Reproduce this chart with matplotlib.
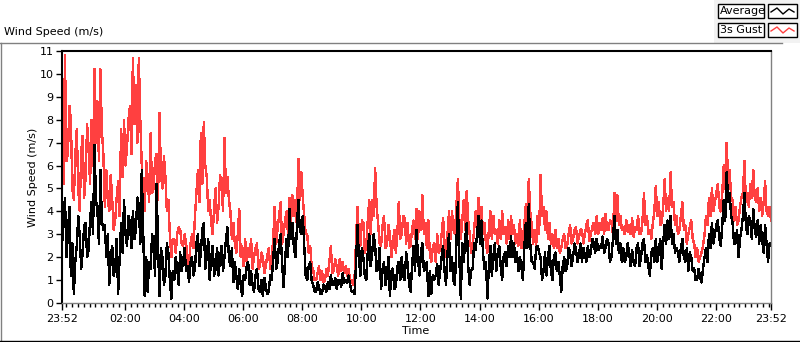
import matplotlib
matplotlib.use('Agg')
import matplotlib.pyplot as plt
from matplotlib.lines import Line2D
from matplotlib.patches import Rectangle

# wind speed, one sample every 3 minutes from 23:52 to 23:52.
# the *_a lists hold samples at 0, 6, 12 ... min, the *_b lists the ones at 3, 9, 15 ... min
sample_step_min = 3

gust_a = [7.3, 10.8, 6.5, 8.0, 4.5, 7.6, 4.0, 7.3, 5.5, 6.8,
          8.0, 10.2, 8.8, 10.2, 6.5, 5.8, 4.0, 4.5, 3.6, 5.3,
          7.6, 8.0, 6.8, 8.6, 10.7, 9.5, 10.7, 6.0, 4.0, 5.5,
          7.4, 5.0, 6.5, 8.3, 5.0, 5.5, 4.5, 2.0, 2.8, 3.0,
          3.2, 2.5, 2.6, 1.6, 3.0, 3.8, 5.8, 7.4, 7.9, 5.5,
          4.5, 3.0, 5.0, 4.2, 5.2, 7.2, 5.5, 4.0, 3.5, 2.2,
          4.1, 2.5, 2.8, 2.4, 2.8, 2.0, 2.6, 1.6, 2.0, 1.6,
          2.4, 2.0, 4.2, 3.3, 4.4, 3.0, 4.0, 4.6, 4.7, 4.5,
          6.3, 5.7, 3.8, 3.0, 2.5, 1.5, 1.0, 1.6, 1.4, 1.0,
          1.2, 2.5, 1.4, 1.6, 1.9, 1.8, 1.6, 1.5, 1.0, 1.0,
          4.2, 2.5, 3.5, 2.5, 4.5, 4.5, 5.9, 3.5, 2.5, 3.8,
          2.5, 3.0, 2.6, 2.2, 4.4, 3.0, 3.7, 3.5, 2.5, 3.6,
          4.1, 4.0, 4.7, 3.5, 3.6, 1.8, 2.6, 3.0, 2.3, 3.7,
          2.0, 4.0, 4.0, 3.0, 5.4, 2.8, 4.5, 4.9, 3.0, 2.5,
          4.0, 4.6, 4.2, 3.5, 2.2, 4.0, 3.8, 3.2, 3.6, 4.0,
          3.3, 3.6, 3.8, 3.4, 3.0, 3.6, 2.8, 4.3, 5.4, 3.4,
          3.2, 3.8, 5.6, 4.2, 4.0, 3.5, 3.0, 3.2, 2.8, 2.4,
          3.0, 2.5, 3.4, 2.8, 3.3, 2.9, 3.2, 3.0, 3.6, 3.0,
          3.5, 3.8, 3.5, 3.7, 3.9, 3.2, 3.5, 4.8, 4.7, 3.8,
          3.3, 3.6, 3.4, 3.7, 3.3, 3.8, 3.0, 4.8, 3.8, 3.2,
          3.5, 5.1, 4.4, 3.5, 5.4, 4.6, 5.7, 4.4, 3.8, 3.2,
          4.4, 3.4, 3.0, 3.6, 2.6, 2.4, 2.0, 2.5, 3.8, 4.6,
          5.0, 4.4, 5.2, 4.0, 6.0, 7.0, 5.8, 4.5, 4.2, 3.6,
          4.6, 6.2, 4.8, 5.2, 5.8, 4.4, 4.0, 3.8, 5.3, 3.8,
          3.6]

gust_b = [5.2, 6.2, 8.6, 5.0, 6.4, 5.0, 6.6, 4.6, 7.8, 5.2,
          6.0, 7.0, 6.2, 7.5, 4.2, 4.5, 5.6, 3.2, 4.6, 3.8,
          5.5, 6.0, 8.0, 6.5, 7.8, 7.0, 8.0, 4.6, 6.2, 4.4,
          4.8, 6.2, 4.5, 5.6, 6.4, 4.0, 3.0, 2.8, 2.2, 3.3,
          2.6, 3.0, 2.0, 2.6, 2.4, 4.8, 4.4, 5.2, 6.0, 4.0,
          3.5, 4.2, 3.5, 5.6, 4.0, 4.8, 4.5, 2.8, 2.6, 3.0,
          2.0, 1.6, 1.8, 2.0, 1.5, 2.4, 1.5, 2.2, 1.3, 2.1,
          1.5, 2.8, 2.6, 3.8, 2.6, 3.6, 3.0, 3.5, 3.8, 3.4,
          4.5, 4.6, 3.0, 2.2, 1.6, 1.0, 1.3, 1.0, 0.9, 1.5,
          1.8, 1.3, 1.9, 1.2, 1.4, 1.3, 1.2, 1.0, 0.8, 2.6,
          3.0, 3.6, 2.2, 3.6, 3.0, 3.8, 4.2, 2.6, 3.4, 2.4,
          3.4, 2.0, 3.2, 3.0, 2.8, 3.8, 2.6, 2.4, 3.2, 2.8,
          2.8, 3.2, 3.0, 2.4, 2.2, 2.4, 1.8, 2.2, 3.0, 2.6,
          3.0, 2.8, 3.2, 4.2, 3.6, 3.6, 3.2, 3.6, 2.2, 3.2,
          3.2, 3.4, 3.0, 2.6, 3.2, 2.8, 3.0, 2.6, 2.8, 3.0,
          2.6, 2.8, 3.0, 2.6, 2.5, 2.4, 3.4, 3.2, 4.0, 2.6,
          2.5, 3.0, 3.8, 3.2, 2.8, 2.6, 2.4, 2.4, 2.2, 2.8,
          2.4, 3.0, 2.6, 3.2, 2.6, 3.2, 2.6, 3.4, 2.7, 3.3,
          3.0, 3.0, 3.2, 3.0, 3.2, 3.6, 3.0, 3.6, 3.4, 3.2,
          3.0, 3.1, 3.0, 2.9, 3.2, 3.0, 3.6, 3.4, 3.0, 2.8,
          4.0, 3.8, 3.4, 4.2, 4.0, 4.0, 4.2, 3.4, 3.0, 3.8,
          3.2, 2.6, 3.3, 2.8, 2.0, 1.8, 2.2, 3.0, 3.4, 3.8,
          4.0, 4.8, 4.2, 4.8, 5.0, 5.2, 4.6, 3.6, 3.4, 4.2,
          4.8, 4.4, 4.2, 4.6, 4.6, 5.0, 4.6, 4.4, 4.0, 4.2]

avg_a = [2.5, 4.6, 3.0, 1.2, 0.4, 2.5, 2.9, 2.2, 3.5, 2.3,
         4.4, 6.9, 4.0, 5.8, 3.2, 2.0, 0.8, 2.5, 1.5, 0.4,
         3.5, 4.5, 2.5, 3.5, 4.0, 3.2, 4.3, 5.8, 0.3, 0.5,
         1.5, 2.5, 5.2, 0.3, 2.0, 1.2, 2.2, 0.2, 1.0, 1.5,
         2.2, 1.8, 1.4, 0.9, 2.0, 1.5, 3.0, 2.2, 3.5, 2.0,
         1.0, 2.5, 1.5, 1.2, 2.5, 2.0, 3.3, 1.6, 0.9, 1.2,
         1.5, 0.3, 1.0, 1.8, 1.4, 0.5, 1.5, 0.5, 0.3, 0.7,
         0.5, 1.0, 2.8, 1.8, 3.0, 0.7, 2.8, 4.1, 3.5, 2.0,
         4.5, 3.0, 2.5, 1.0, 1.8, 0.8, 0.5, 0.7, 0.4, 0.7,
         0.9, 1.2, 0.8, 0.6, 1.0, 1.3, 1.0, 1.2, 0.5, 0.4,
         3.4, 1.2, 2.0, 1.0, 3.0, 2.2, 2.5, 1.5, 0.6, 1.8,
         1.2, 0.3, 1.5, 0.7, 1.8, 2.0, 1.0, 1.7, 0.5, 2.5,
         3.2, 1.2, 2.6, 1.5, 0.3, 0.4, 1.0, 1.7, 1.4, 2.5,
         0.8, 3.0, 2.0, 0.8, 4.4, 0.2, 1.8, 3.5, 0.8, 1.5,
         2.3, 3.8, 3.6, 1.5, 0.2, 2.5, 2.0, 1.4, 2.5, 1.0,
         2.2, 2.5, 2.9, 2.6, 2.2, 2.0, 1.0, 3.5, 4.3, 1.8,
         1.5, 2.5, 2.0, 1.4, 1.2, 2.5, 1.0, 2.2, 1.8, 0.5,
         2.0, 1.6, 2.2, 2.0, 2.3, 2.1, 1.8, 2.1, 2.5, 2.2,
         2.6, 2.8, 2.5, 2.9, 2.4, 2.6, 2.0, 3.8, 3.2, 2.6,
         2.4, 2.0, 2.2, 2.3, 1.6, 2.6, 2.0, 2.8, 2.1, 1.2,
         2.4, 2.8, 2.2, 1.5, 3.4, 3.6, 3.8, 3.0, 2.4, 1.8,
         2.8, 1.8, 1.4, 2.0, 1.5, 1.0, 1.1, 1.5, 2.4, 3.0,
         3.5, 3.0, 3.6, 2.5, 4.5, 5.7, 4.8, 3.5, 2.6, 2.0,
         3.2, 4.8, 3.0, 3.6, 4.1, 2.9, 2.6, 2.8, 3.4, 1.8,
         2.6]

avg_b = [3.6, 2.0, 4.2, 2.6, 1.8, 3.8, 1.5, 3.4, 2.0, 3.6,
         3.0, 4.5, 2.6, 3.6, 3.4, 3.0, 2.0, 1.2, 2.8, 2.0,
         2.2, 3.0, 3.8, 2.4, 2.8, 4.6, 2.6, 3.0, 2.0, 1.8,
         3.0, 1.2, 2.6, 2.4, 0.8, 2.6, 1.0, 1.4, 2.0, 0.8,
         1.4, 2.4, 1.6, 1.8, 1.2, 2.6, 1.6, 3.2, 1.5, 2.8,
         2.0, 1.2, 2.4, 2.0, 1.4, 2.8, 2.0, 2.4, 1.8, 0.6,
         0.8, 1.2, 1.6, 0.8, 0.8, 1.2, 0.6, 1.0, 1.1, 0.4,
         1.2, 2.0, 1.5, 2.6, 1.8, 1.8, 2.0, 2.8, 2.4, 3.2,
         3.2, 3.8, 1.2, 1.6, 1.0, 0.5, 0.9, 0.4, 0.8, 0.5,
         0.6, 0.8, 1.1, 1.0, 0.7, 0.9, 0.9, 0.8, 0.5, 1.6,
         2.0, 2.4, 1.2, 2.2, 1.6, 3.0, 1.4, 2.4, 1.4, 0.8,
         2.0, 1.4, 0.6, 1.6, 1.0, 1.2, 2.2, 0.8, 1.6, 1.4,
         2.0, 2.2, 1.4, 1.8, 1.4, 1.2, 1.2, 0.8, 2.0, 1.4,
         2.2, 1.4, 1.0, 2.6, 2.0, 2.6, 2.8, 1.6, 1.4, 2.6,
         3.0, 2.6, 2.2, 1.8, 1.6, 1.2, 2.6, 2.2, 1.6, 2.0,
         1.6, 2.0, 2.0, 1.8, 1.4, 1.6, 2.4, 2.4, 2.6, 1.8,
         2.4, 2.2, 1.0, 2.2, 2.0, 1.4, 2.0, 1.4, 1.2, 1.6,
         1.4, 2.4, 1.6, 2.6, 1.8, 2.6, 2.4, 1.8, 2.0, 2.8,
         2.2, 2.3, 2.4, 2.2, 2.8, 1.8, 2.8, 2.6, 2.2, 1.8,
         1.8, 2.6, 1.6, 1.8, 2.4, 1.6, 2.6, 1.8, 1.6, 2.2,
         1.8, 1.8, 2.8, 2.6, 2.6, 2.8, 2.6, 2.2, 2.2, 2.4,
         2.0, 2.4, 2.2, 1.4, 1.0, 1.5, 0.9, 2.0, 1.8, 2.4,
         2.6, 3.4, 2.8, 3.4, 3.6, 4.4, 3.8, 2.6, 3.2, 2.8,
         3.8, 3.4, 3.8, 2.8, 3.2, 3.6, 3.4, 2.2, 2.6, 2.6]

gust = []
average = []
for ga, gb, aa, ab in zip(gust_a, gust_b, avg_a, avg_b):
    gust += [ga, gb]
    average += [aa, ab]
gust.append(gust_a[-1])
average.append(avg_a[-1])
minutes = [i * sample_step_min for i in range(len(gust))]

# x axis: minutes after 23:52
major_pos = [0, 128, 248, 368, 488, 608, 728, 848, 968, 1088, 1208, 1328, 1440]
major_lbl = ['23:52', '02:00', '04:00', '06:00', '08:00', '10:00', '12:00',
             '14:00', '16:00', '18:00', '20:00', '22:00', '23:52']
minor_pos = [m for m in range(8, 1440, 12) if m not in major_pos]

W, H = 800, 342
RED = '#ff4040'
GRAY = '#808080'


def fx(x):
    return x / W


def fy(y):
    return 1 - y / H


fig = plt.figure(figsize=(W / 100, H / 100), dpi=100)
fig.patch.set_facecolor('white')

# outer frame + legend area
fig.patches.append(Rectangle((fx(714), fy(43)), fx(800) - fx(714), 43 / H,
                             transform=fig.transFigure, facecolor='#f2f2f2',
                             edgecolor='none', zorder=0))
fig.lines.append(Line2D([fx(0), fx(782)], [fy(42.5), fy(42.5)], color=GRAY, lw=1,
                        transform=fig.transFigure))
fig.lines.append(Line2D([fx(0.5), fx(0.5)], [fy(42.5), fy(341)], color=GRAY, lw=1,
                        transform=fig.transFigure))
fig.lines.append(Line2D([fx(0), fx(800)], [fy(340.5), fy(340.5)], color='black', lw=1,
                        transform=fig.transFigure))

ax = fig.add_axes([fx(62), fy(303), (771 - 62) / W, (303 - 51) / H])
ax.plot(minutes, gust, color=RED, lw=1, antialiased=False)
ax.plot(minutes, average, color='black', lw=1, antialiased=False)

ax.set_xlim(0, 1440)
ax.set_ylim(0, 11)
ax.set_yticks(range(0, 12))
ax.set_xticks(major_pos)
ax.set_xticklabels(major_lbl)
ax.set_xticks(minor_pos, minor=True)
ax.tick_params(axis='y', direction='out', length=4, width=1, pad=2, labelsize=8)
ax.tick_params(axis='x', which='major', direction='out', length=5, width=1, pad=3, labelsize=8)
ax.tick_params(axis='x', which='minor', direction='out', length=3, width=1)

for s in ['top', 'left']:
    ax.spines[s].set_color('black')
    ax.spines[s].set_linewidth(1.5)
for s in ['bottom', 'right']:
    ax.spines[s].set_color(GRAY)
    ax.spines[s].set_linewidth(1)

fig.text(fx(4), fy(32), 'Wind Speed (m/s)', fontsize=8, ha='left', va='center')
fig.text(fx(33), fy(177), 'Wind Speed (m/s)', fontsize=8, rotation=90,
         ha='center', va='center')
fig.text(fx(416), fy(331), 'Time', fontsize=8, ha='center', va='center')

# legend boxes
for name, col, top in [('Average', 'black', 4), ('3s Gust', RED, 23)]:
    fig.patches.append(Rectangle((fx(718), fy(top + 14)), 46 / W, 14 / H,
                                 transform=fig.transFigure, facecolor='white',
                                 edgecolor='black', lw=1))
    fig.text(fx(720), fy(top + 7), name, fontsize=8, ha='left', va='center')
    fig.patches.append(Rectangle((fx(768), fy(top + 14)), 29 / W, 14 / H,
                                 transform=fig.transFigure, facecolor='white',
                                 edgecolor='black', lw=1))
    fig.lines.append(Line2D([fx(771), fx(777), fx(783), fx(789), fx(794)],
                            [fy(top + 8), fy(top + 4), fy(top + 10), fy(top + 5), fy(top + 8)],
                            color=col, lw=1, transform=fig.transFigure))

plt.savefig('out.png', dpi=100)
